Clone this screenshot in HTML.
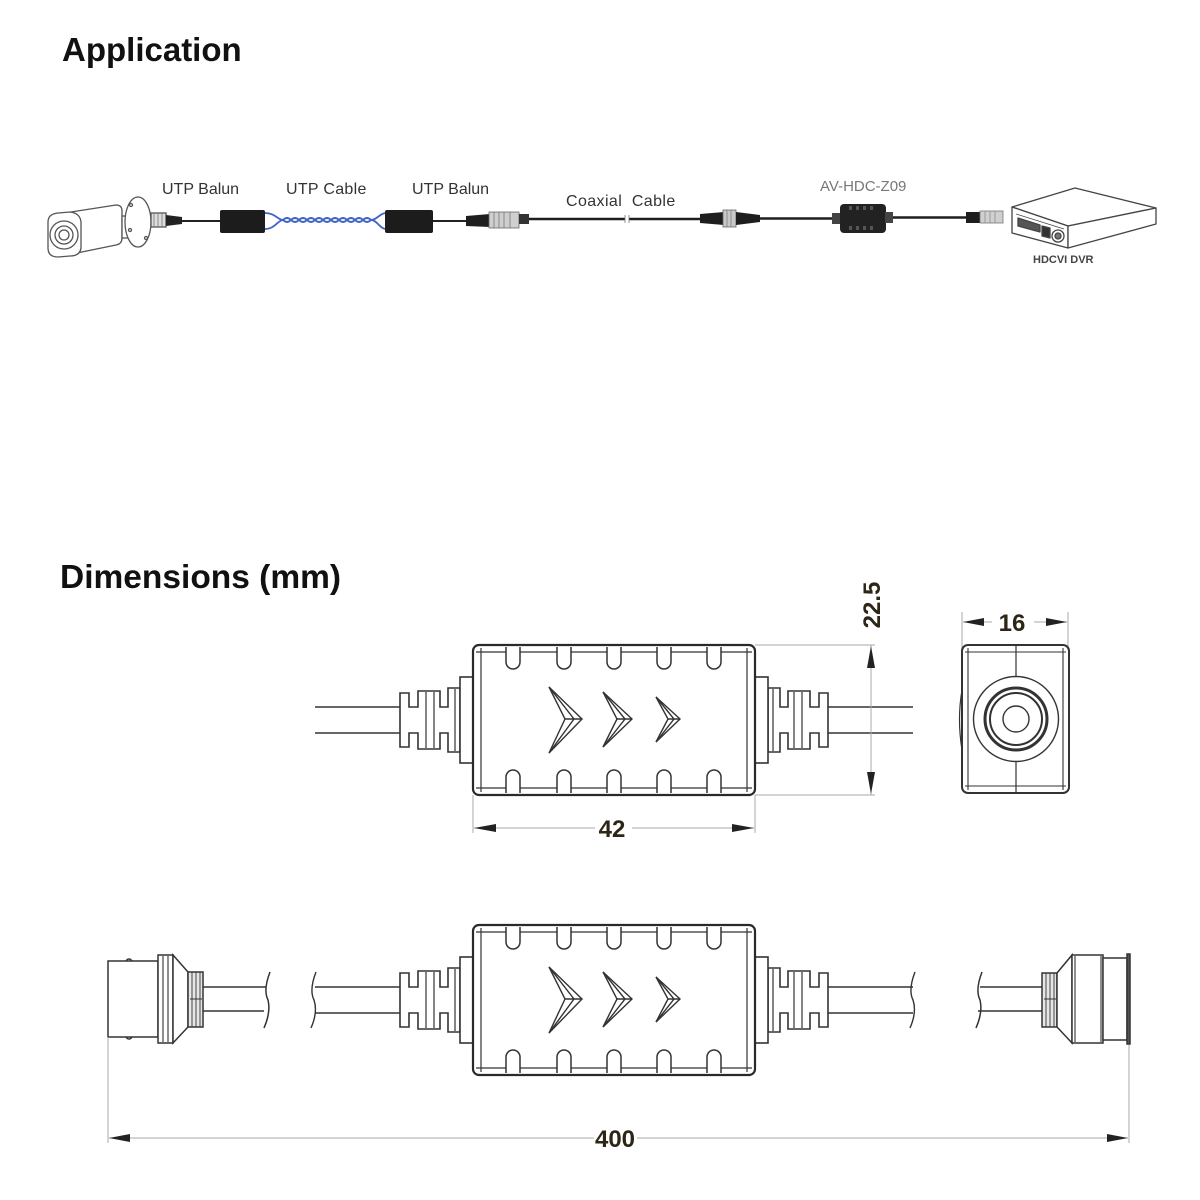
<!DOCTYPE html>
<html><head><meta charset="utf-8"><style>
html,body{margin:0;padding:0;background:#fff;}
svg{display:block;}
.t{font-family:"Liberation Sans",Arial,sans-serif;}
</style></head><body>
<svg width="1200" height="1200" viewBox="0 0 1200 1200" xmlns="http://www.w3.org/2000/svg">
<rect width="1200" height="1200" fill="#fff"/>
<defs>
<g id="side">
  <path d="M315 707 H400 M315 733 H400" stroke="#333" stroke-width="1.6" fill="none"/>
  <path d="M400 707 V693 H409 V707 H418 V691 H440 V707 H448 V688 H460 V752 H448 V733 H440 V749 H418 V733 H409 V747 H400 Z" fill="#fff" stroke="#333" stroke-width="1.6"/>
  <path d="M426 692 V748 M434 692 V748 M455 689 V751" stroke="#333" stroke-width="1.2"/>
  <rect x="460" y="677" width="13" height="86" fill="#fff" stroke="#333" stroke-width="1.6"/>
</g>
<g id="body">
  <rect x="473" y="645" width="282" height="150" rx="6" fill="#fff" stroke="#2a2a2a" stroke-width="2.2"/>
  <path d="M476 652 H752 M476 788 H752 M481 648 V792 M747 648 V792" stroke="#333" stroke-width="1.2" fill="none"/>
  <g fill="#fff" stroke="#333" stroke-width="1.5">
    <path d="M506 647 V662 A7 7 0 0 0 520 662 V647"/>
    <path d="M557 647 V662 A7 7 0 0 0 571 662 V647"/>
    <path d="M607 647 V662 A7 7 0 0 0 621 662 V647"/>
    <path d="M657 647 V662 A7 7 0 0 0 671 662 V647"/>
    <path d="M707 647 V662 A7 7 0 0 0 721 662 V647"/>
    <path d="M506 793 V777 A7 7 0 0 1 520 777 V793"/>
    <path d="M557 793 V777 A7 7 0 0 1 571 777 V793"/>
    <path d="M607 793 V777 A7 7 0 0 1 621 777 V793"/>
    <path d="M657 793 V777 A7 7 0 0 1 671 777 V793"/>
    <path d="M707 793 V777 A7 7 0 0 1 721 777 V793"/>
  </g>
  <g fill="none" stroke="#333" stroke-width="1.4" stroke-linejoin="miter">
    <path d="M549 687 L582 719 L549 753 L565 719 Z"/>
    <path d="M549 687 L574 719 L549 753 M565 719 H582"/>
    <path d="M603 692 L632 719 L603 747 L617 719 Z"/>
    <path d="M603 692 L625 719 L603 747 M617 719 H632"/>
    <path d="M656 697 L680 719 L656 742 L668 719 Z"/>
    <path d="M656 697 L674 719 L656 742 M668 719 H680"/>
  </g>
</g>
</defs>

<!-- Titles -->
<text x="62" y="61" class="t" font-size="33" font-weight="bold" fill="#111">Application</text>
<text x="60" y="588" class="t" font-size="33.5" font-weight="bold" fill="#111">Dimensions (mm)</text>

<!-- ===== Application diagram ===== -->
<g class="t" font-size="16" fill="#333">
  <text x="162" y="194">UTP Balun</text>
  <text x="286" y="194" letter-spacing="0.3">UTP Cable</text>
  <text x="412" y="194">UTP Balun</text>
  <text x="566" y="206" letter-spacing="0.4">Coaxial&#160; Cable</text>
</g>
<text x="820" y="191" class="t" font-size="15" fill="#777">AV-HDC-Z09</text>
<text x="1033" y="263" class="t" font-size="11" font-weight="bold" fill="#444">HDCVI DVR</text>

<!-- camera -->
<g stroke="#555" stroke-width="1.3" fill="#fff">
  <path d="M58 214 L116 205 Q122 205 122 211 L122 238 Q122 244 116 245 L72 254 Z"/>
  <path d="M48 222 Q48 214 58 213 L70 212 Q80 213 81 222 L81 248 Q80 256 70 256 L58 257 Q48 257 48 248 Z"/>
  <circle cx="64" cy="235" r="14"/>
  <circle cx="64" cy="235" r="9"/>
  <circle cx="64" cy="235" r="5"/>
  <rect x="122" y="216" width="16" height="22"/>
  <ellipse cx="138" cy="222" rx="13" ry="25"/>
  <circle cx="131" cy="205" r="1.5"/><circle cx="146" cy="238" r="1.5"/><circle cx="130" cy="230" r="1.5"/>
  <rect x="151" y="213" width="15" height="14" fill="#ddd"/>
  <path d="M154 213 V227 M158 213 V227 M162 213 V227" stroke="#777" stroke-width="0.8"/>
</g>
<path d="M166 215 L182 217 L182 224 L166 226 Z" fill="#222"/>
<path d="M182 221 H222" stroke="#222" stroke-width="2"/>
<rect x="220" y="210" width="45" height="23" rx="2" fill="#1c1c1c"/>
<g fill="none" stroke="#3f63c9" stroke-width="1.8">
  <path d="M265 213 C275 213 278 220 283 220 Q287 216 291 220 T299 220 T307 220 T315 220 T323 220 T331 220 T339 220 T347 220 T355 220 T363 220 T371 220 C377 220 380 213 386 213"/>
  <path d="M265 229 C275 229 278 220 283 220 Q287 224 291 220 T299 220 T307 220 T315 220 T323 220 T331 220 T339 220 T347 220 T355 220 T363 220 T371 220 C377 220 380 229 386 229"/>
</g>
<rect x="385" y="210" width="48" height="23" rx="2" fill="#1c1c1c"/>
<path d="M433 221 H468" stroke="#222" stroke-width="2"/>
<path d="M466 216 L490 214 L490 227 L466 226 Z" fill="#1e1e1e"/>
<rect x="489" y="212" width="30" height="16" fill="#cfcfcf" stroke="#666" stroke-width="0.8"/>
<path d="M494 212 V228 M499 212 V228 M504 212 V228 M510 212 V228" stroke="#777" stroke-width="0.8"/>
<rect x="519" y="214" width="10" height="10" fill="#333"/>
<path d="M529 219 H625 M629 219 H702" stroke="#1e1e1e" stroke-width="2.6"/>
<path d="M625 215 V223 M629 215 V223" stroke="#777" stroke-width="0.8"/>
<path d="M700 214 L724 212 L724 225 L700 223 Z" fill="#1e1e1e"/>
<rect x="723" y="210" width="13" height="17" fill="#c9c9c9" stroke="#666" stroke-width="0.8"/>
<path d="M727 210 V227 M731 210 V227" stroke="#777" stroke-width="0.7"/>
<path d="M736 212 L760 215 L760 222 L736 225 Z" fill="#1e1e1e"/>
<path d="M760 218.5 H834" stroke="#1e1e1e" stroke-width="2.6"/>
<rect x="832" y="213" width="9" height="11" fill="#444"/>
<rect x="840" y="204" width="46" height="29" rx="4" fill="#222"/>
<g fill="#555"><rect x="849" y="206" width="3" height="4"/><rect x="856" y="206" width="3" height="4"/><rect x="863" y="206" width="3" height="4"/><rect x="870" y="206" width="3" height="4"/>
<rect x="849" y="226" width="3" height="4"/><rect x="856" y="226" width="3" height="4"/><rect x="863" y="226" width="3" height="4"/><rect x="870" y="226" width="3" height="4"/></g>
<rect x="885" y="212" width="8" height="11" fill="#444"/>
<path d="M893 217.5 H968" stroke="#1e1e1e" stroke-width="2.6"/>
<rect x="966" y="212" width="14" height="11" fill="#1e1e1e"/>
<rect x="980" y="211" width="23" height="12" fill="#d0d0d0" stroke="#777" stroke-width="0.8"/>
<path d="M985 211 V223 M990 211 V223 M995 211 V223" stroke="#888" stroke-width="0.7"/>
<g stroke="#444" stroke-width="1.3" fill="#fff" stroke-linejoin="round">
  <path d="M1012 207 L1075 188 L1156 208 L1068 226 Z"/>
  <path d="M1012 207 L1068 226 L1068 248 L1012 233 Z"/>
  <path d="M1068 226 L1156 208 L1156 224 L1068 248 Z"/>
  <path d="M1016 214 L1064 229" stroke-width="0.8"/>
  <path d="M1018 218 L1040 225 L1040 232 L1018 226 Z" fill="#555"/>
  <path d="M1042 226 L1050 228 L1050 238 L1042 236 Z" fill="#333"/>
  <circle cx="1058" cy="236" r="6" fill="#fff"/>
  <circle cx="1058" cy="236" r="3" fill="#777"/>
</g>

<!-- ===== Dimensions: top view ===== -->
<use href="#side"/>
<use href="#side" transform="translate(1228,0) scale(-1,1)"/>
<use href="#body"/>

<path d="M755 645 H875 M755 795 H875 M871 645 V795" stroke="#aaa" stroke-width="1"/>
<path d="M871 646 L867 668 L875 668 Z M871 794 L867 772 L875 772 Z" fill="#222"/>
<text transform="translate(880,605) rotate(-90)" text-anchor="middle" class="t" font-size="24" font-weight="bold" fill="#2d2616">22.5</text>

<path d="M473 795 V833 M755 795 V833 M474 828 H595 M632 828 H754" stroke="#aaa" stroke-width="1"/>
<path d="M474 828 L496 824 L496 832 Z M754 828 L732 824 L732 832 Z" fill="#222"/>
<text x="612" y="837" text-anchor="middle" class="t" font-size="24" font-weight="bold" fill="#2d2616">42</text>

<path d="M962 612 V650 M1068 612 V650 M963 622 H992 M1034 622 H1067" stroke="#aaa" stroke-width="1"/>
<path d="M963 622 L984 618 L984 626 Z M1067 622 L1046 618 L1046 626 Z" fill="#222"/>
<text x="1012" y="631" text-anchor="middle" class="t" font-size="24" font-weight="bold" fill="#2d2616">16</text>
<g fill="none" stroke="#333">
  <rect x="962" y="645" width="107" height="148" rx="6" stroke-width="2"/>
  <path d="M965 652 H1066 M965 786 H1066 M968 648 V790 M1063 648 V790" stroke-width="1.1"/>
  <path d="M1016 645 V677 M1016 762 V793" stroke-width="1.2"/>
  <path d="M962 690 Q957 719 962 750" stroke-width="1.2"/>
  <circle cx="1016" cy="719" r="42.5" stroke-width="1.4"/>
  <circle cx="1016" cy="719" r="31" stroke-width="3"/>
  <circle cx="1016" cy="719" r="26" stroke-width="2"/>
  <circle cx="1016" cy="719" r="13" stroke-width="1.4"/>
</g>

<!-- ===== Dimensions: full length ===== -->
<g transform="translate(0,280)">
  <use href="#side"/>
  <use href="#side" transform="translate(1228,0) scale(-1,1)"/>
  <use href="#body"/>
</g>
<g fill="none" stroke="#333" stroke-width="1.4">
  <path d="M316 972 Q309 990 314 1000 Q318 1012 311 1028"/>
  <path d="M915 972 Q908 990 913 1000 Q917 1012 910 1028"/>
</g>
<g fill="#fff" stroke="#333" stroke-width="1.5">
  <path d="M203 987 H266 M203 1011 H264" fill="none"/>
  <path d="M270 972 Q263 990 268 1000 Q271 1012 264 1028" fill="none"/>
  <path d="M126 962 A3 3 0 0 1 132 962 M126 1036 A3 3 0 0 0 132 1036" fill="none"/>
  <rect x="108" y="961" width="50" height="76"/>
  <rect x="158" y="955" width="15" height="88"/>
  <path d="M163 956 V1042 M168 956 V1042" stroke-width="1.1"/>
  <path d="M173 955 L188 972 L188 1027 L173 1043 Z"/>
  <rect x="188" y="972" width="15" height="55" fill="#e6e6e6"/>
  <path d="M192 972 V1027 M196 972 V1027 M200 972 V1027 M190 999 H202" stroke-width="0.9"/>
</g>
<g fill="#fff" stroke="#333" stroke-width="1.5">
  <path d="M980 987 H1042 M978 1011 H1042" fill="none"/>
  <path d="M982 972 Q975 990 980 1000 Q983 1012 976 1028" fill="none"/>
  <rect x="1042" y="973" width="15" height="54" fill="#e6e6e6"/>
  <path d="M1046 973 V1027 M1050 973 V1027 M1054 973 V1027 M1044 999 H1056" stroke-width="0.9"/>
  <path d="M1057 973 L1072 955 L1072 1043 L1057 1027 Z"/>
  <rect x="1072" y="955" width="31" height="88"/>
  <path d="M1075 956 V1042 M1101 956 V1042" stroke-width="1.1"/>
  <rect x="1103" y="958" width="24" height="82"/>
  <rect x="1127" y="954" width="3" height="90" fill="#555"/>
</g>

<path d="M108 1037 V1143 M1129 1045 V1143 M109 1138 H594 M637 1138 H1128" stroke="#aaa" stroke-width="1"/>
<path d="M109 1138 L130 1134 L130 1142 Z M1128 1138 L1107 1134 L1107 1142 Z" fill="#222"/>
<text x="615" y="1147" text-anchor="middle" class="t" font-size="24" font-weight="bold" fill="#2d2616">400</text>
</svg>
</body></html>
